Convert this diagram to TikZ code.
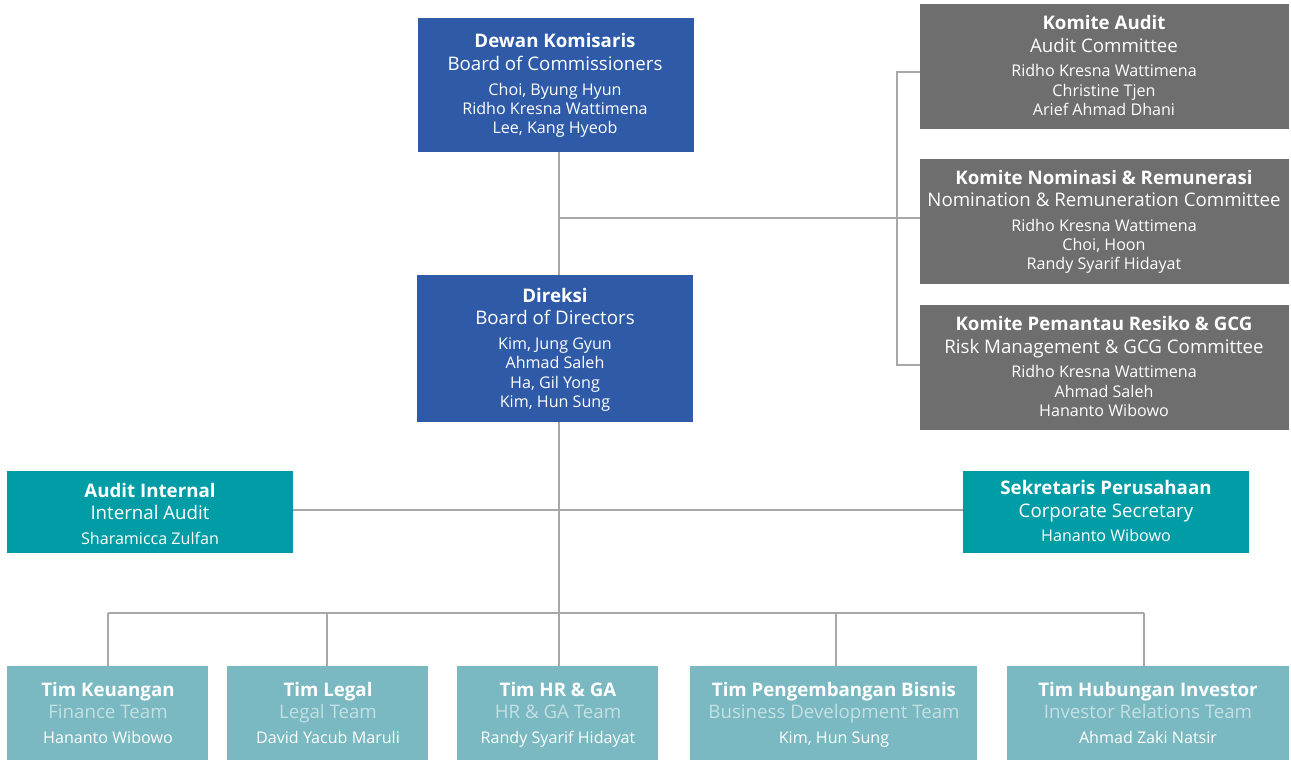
\documentclass[tikz,border=0pt]{standalone}
\usepackage{fontspec}
\setmainfont{Open Sans}
\definecolor{cblue}{HTML}{2E5AA7}
\definecolor{cgrey}{HTML}{6E6E6E}
\definecolor{cteal}{HTML}{009DA6}
\definecolor{clight}{HTML}{7AB9C1}
\definecolor{csub}{HTML}{C4E0E4}
\definecolor{cline}{HTML}{A8A8A8}
\tikzset{
  orgbox/.style={draw=none, inner sep=0pt, outer sep=0pt},
  txt/.style={anchor=mid, inner sep=0pt, yshift=-4pt},
  ttl/.style={txt, text=white, font=\fontsize{18.7}{21}\selectfont\bfseries},
  sub/.style={txt, text=white, font=\fontsize{18.7}{21}\selectfont},
  subl/.style={txt, text=csub, font=\fontsize{18.7}{21}\selectfont},
  nm/.style={txt, text=white, font=\fontsize{16.1}{19}\selectfont},
  conn/.style={draw=cline, line width=1.4pt},
}
% \mkbox{name}{x1}{y1}{x2}{y2}{colour}
\newcommand\mkbox[6]{%
  \path[fill=#6] (#2,#3) rectangle (#4,#5);
  \node[orgbox, minimum width=#4-#2, minimum height=#5-#3] (#1) at ({(#2+#4)/2},{(#3+#5)/2}) {};
}
\begin{document}
\begin{tikzpicture}[x=1pt,y=-1pt]
\useasboundingbox (0,0) rectangle (1291,760);

\coordinate (j1) at (559,218);
\coordinate (cA) at (897,72);
\coordinate (cN) at (897,218);
\coordinate (cR) at (897,365);
\coordinate (j2) at (559,510);
\coordinate (j3) at (559,613);
\coordinate (bL) at (108,613);
\coordinate (bR) at (1144,613);
\coordinate (b2) at (327,613);
\coordinate (b4) at (836,613);

% boxes
\mkbox{dk}{418}{18}{694}{152}{cblue}
\mkbox{dir}{417}{275}{693}{422}{cblue}
\mkbox{ka}{920}{4}{1289}{129}{cgrey}
\mkbox{kn}{920}{159}{1289}{284}{cgrey}
\mkbox{kr}{920}{305}{1289}{430}{cgrey}
\mkbox{ai}{7}{471}{293}{553}{cteal}
\mkbox{sp}{963}{471}{1249}{553}{cteal}
\mkbox{tk}{7}{666}{208}{760}{clight}
\mkbox{tl}{227}{666}{428}{760}{clight}
\mkbox{th}{457}{666}{658}{760}{clight}
\mkbox{tb}{690}{666}{977}{760}{clight}
\mkbox{ti}{1007}{666}{1289}{760}{clight}

% connectors
\draw[conn] (j1 |- dk.south) -- (j1 |- dir.north);
\draw[conn] (j1) -- (cN -| kn.west);
\draw[conn] (cA -| ka.west) -- (cA) -- (cR) -- (cR -| kr.west);
\draw[conn] (j1 |- dir.south) -- (j3);
\draw[conn] (j2 -| ai.east) -- (j2 -| sp.west);
\draw[conn] (bL) -- (bR);
\draw[conn] (bL) -- (bL |- tk.north);
\draw[conn] (b2) -- (b2 |- tl.north);
\draw[conn] (j3) -- (j3 |- th.north);
\draw[conn] (b4) -- (b4 |- tb.north);
\draw[conn] (bR) -- (bR |- ti.north);

% Dewan Komisaris
\node[ttl] (dk1) at (555,41) {Dewan Komisaris};
\node[sub] (dk2) at (555,64) {Board of Commissioners};
\node[nm] (dk3) at (555,89) {Choi, Byung Hyun};
\node[nm] (dk4) at (555,108) {Ridho Kresna Wattimena};
\node[nm] (dk5) at (555,127) {Lee, Kang Hyeob};
% Direksi
\node[ttl] (dr1) at (555,296) {Direksi};
\node[sub] (dr2) at (555,318) {Board of Directors};
\node[nm] (dr3) at (555,343) {Kim, Jung Gyun};
\node[nm] (dr4) at (555,362) {Ahmad Saleh};
\node[nm] (dr5) at (555,382) {Ha, Gil Yong};
\node[nm] (dr6) at (555,401) {Kim, Hun Sung};
% Komite Audit
\node[ttl] (ka1) at (1104,23) {Komite Audit};
\node[sub] (ka2) at (1104,46) {Audit Committee};
\node[nm] (ka3) at (1104,70) {Ridho Kresna Wattimena};
\node[nm] (ka4) at (1104,90) {Christine Tjen};
\node[nm] (ka5) at (1104,109) {Arief Ahmad Dhani};
% Komite Nominasi
\node[ttl] (kn1) at (1104,178) {Komite Nominasi \& Remunerasi};
\node[sub] (kn2) at (1104,200) {Nomination \& Remuneration Committee};
\node[nm] (kn3) at (1104,225) {Ridho Kresna Wattimena};
\node[nm] (kn4) at (1104,244) {Choi, Hoon};
\node[nm] (kn5) at (1104,263) {Randy Syarif Hidayat};
% Komite Pemantau
\node[ttl] (kr1) at (1104,324) {Komite Pemantau Resiko \& GCG};
\node[sub] (kr2) at (1104,347) {Risk Management \& GCG Committee};
\node[nm] (kr3) at (1104,371) {Ridho Kresna Wattimena};
\node[nm] (kr4) at (1104,391) {Ahmad Saleh};
\node[nm] (kr5) at (1104,410) {Hananto Wibowo};
% Audit Internal
\node[ttl] (ai1) at (150,491) {Audit Internal};
\node[sub] (ai2) at (150,513) {Internal Audit};
\node[nm] (ai3) at (150,538) {Sharamicca Zulfan};
% Sekretaris
\node[ttl] (sp1) at (1106,488) {Sekretaris Perusahaan};
\node[sub] (sp2) at (1106,511) {Corporate Secretary};
\node[nm] (sp3) at (1106,535) {Hananto Wibowo};
% bottom teams
\node[ttl] (tk1) at (108,690) {Tim Keuangan};
\node[subl] (tk2) at (108,712) {Finance Team};
\node[nm] (tk3) at (108,737) {Hananto Wibowo};
\node[ttl] (tl1) at (328,690) {Tim Legal};
\node[subl] (tl2) at (328,712) {Legal Team};
\node[nm] (tl3) at (328,737) {David Yacub Maruli};
\node[ttl] (th1) at (558,690) {Tim HR \& GA};
\node[subl] (th2) at (558,712) {HR \& GA Team};
\node[nm] (th3) at (558,737) {Randy Syarif Hidayat};
\node[ttl] (tb1) at (834,690) {Tim Pengembangan Bisnis};
\node[subl] (tb2) at (834,712) {Business Development Team};
\node[nm] (tb3) at (834,737) {Kim, Hun Sung};
\node[ttl] (ti1) at (1148,690) {Tim Hubungan Investor};
\node[subl] (ti2) at (1148,712) {Investor Relations Team};
\node[nm] (ti3) at (1148,737) {Ahmad Zaki Natsir};
\end{tikzpicture}
\end{document}
